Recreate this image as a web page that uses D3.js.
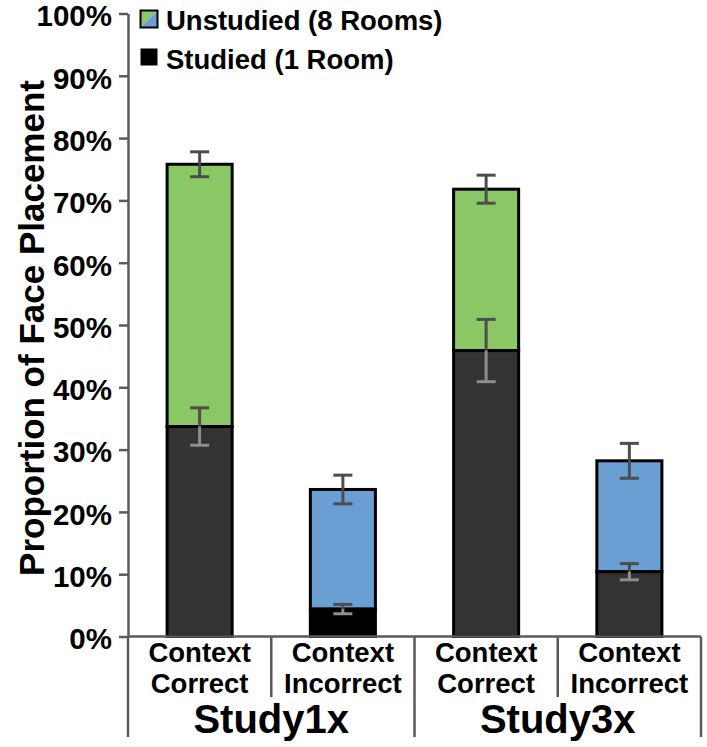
<!DOCTYPE html>
<html>
<head>
<meta charset="utf-8">
<script src="https://cdn.jsdelivr.net/npm/d3@7"></script>
<style>
  html, body { margin: 0; padding: 0; background: #fff; }
  svg { display: block; }
  text { font-family: "Liberation Sans", Arial, sans-serif; font-weight: bold; fill: #000; }
</style>
</head>
<body>
<svg id="chart" width="707" height="747"></svg>
<script>
// ---- data ----
const groups = ["Study1x", "Study3x"];
const categoryLine1 = ["Context", "Context", "Context", "Context"];
const categoryLine2 = ["Correct", "Incorrect", "Correct", "Incorrect"];
const categoryGroup = [0, 0, 1, 1];
const studied = [0.337, 0.044, 0.459, 0.104];
const unstudied = [0.421, 0.192, 0.259, 0.178];
const studiedErr = [0.030, 0.0075, 0.050, 0.013];
const totalErr = [0.020, 0.023, 0.0225, 0.028];
const yTicks = [0, 0.1, 0.2, 0.3, 0.4, 0.5, 0.6, 0.7, 0.8, 0.9, 1.0];
const legendLabels = ["Unstudied (8 Rooms)", "Studied (1 Room)"];

// ---- styles ----
const green = "#8ac866", blue = "#6a9fd3", dark = "#333333";
const unstudiedColor = ["correct", "incorrect", "correct", "incorrect"].map(k => k === "correct" ? green : blue);
const studiedColor = [dark, "#000000", dark, dark];
const axisColor = "#5a5a5a";
const errDark = "#4d4d4d", errLight = "#8e8e8e";

const svg = d3.select("#chart");
const idx = d3.range(studied.length);

const y = d3.scaleLinear().domain([0, 1]).range([636.5, 13.5]);
const x = d3.scaleBand().domain(idx).range([128, 701]).paddingInner(0.525).paddingOuter(0.2625);
const y0 = y(0);

// y axis
const yAxis = d3.axisLeft(y).tickValues(yTicks).tickFormat(d3.format(".0%")).tickSize(9).tickSizeOuter(0).tickPadding(7);
const gy = svg.append("g").attr("transform", "translate(128,0)").call(yAxis);
gy.select(".domain").attr("stroke", axisColor).attr("stroke-width", 2.5);
gy.selectAll(".tick line").attr("stroke", axisColor).attr("stroke-width", 2.5);
gy.selectAll(".tick text").attr("font-size", 29.5).attr("dy", "0.42em")
  .style("font-family", '"Liberation Sans", Arial, sans-serif').style("font-weight", "bold").attr("fill", "#000");

// y title
svg.append("text")
  .attr("transform", `translate(44,${y(0.5) + 3}) rotate(-90)`)
  .attr("text-anchor", "middle")
  .attr("font-size", 35)
  .text("Proportion of Face Placement");

// bars
const bars = svg.append("g");
bars.selectAll("rect.uns").data(idx).join("rect")
  .attr("class", "uns")
  .attr("x", i => x(i) + 1.5)
  .attr("width", x.bandwidth() - 3)
  .attr("y", i => y(studied[i] + unstudied[i]))
  .attr("height", i => y(studied[i]) - y(studied[i] + unstudied[i]))
  .attr("fill", i => unstudiedColor[i])
  .attr("stroke", "#000").attr("stroke-width", 3);
bars.selectAll("rect.stu").data(idx).join("rect")
  .attr("class", "stu")
  .attr("x", i => x(i) + 1.5)
  .attr("width", x.bandwidth() - 3)
  .attr("y", i => y(studied[i]))
  .attr("height", i => y0 - y(studied[i]))
  .attr("fill", i => studiedColor[i])
  .attr("stroke", "#000").attr("stroke-width", 3);

// error bars
const capW = 19;
const eg = svg.append("g").attr("stroke-width", 3).attr("fill", "none");
function errBar(cx, v, e, upperColor, lowerColor) {
  const g = eg.append("g");
  g.append("line").attr("x1", cx).attr("x2", cx).attr("y1", y(v + e)).attr("y2", y(v)).attr("stroke", upperColor);
  g.append("line").attr("x1", cx - capW / 2).attr("x2", cx + capW / 2).attr("y1", y(v + e)).attr("y2", y(v + e)).attr("stroke", upperColor);
  g.append("line").attr("x1", cx).attr("x2", cx).attr("y1", y(v)).attr("y2", y(v - e)).attr("stroke", lowerColor);
  g.append("line").attr("x1", cx - capW / 2).attr("x2", cx + capW / 2).attr("y1", y(v - e)).attr("y2", y(v - e)).attr("stroke", lowerColor);
}
idx.forEach(i => {
  const cx = x(i) + x.bandwidth() / 2;
  errBar(cx, studied[i], studiedErr[i], errDark, errLight);
  errBar(cx, studied[i] + unstudied[i], totalErr[i], errDark, errDark);
});

// x axis line and separators
const left = x.range()[0], step = x.step();
svg.append("line").attr("x1", left).attr("x2", x.range()[1]).attr("y1", y0).attr("y2", y0)
  .attr("stroke", axisColor).attr("stroke-width", 2.5);
d3.range(idx.length + 1).forEach(k => {
  const bx = left + k * step;
  const isGroup = k % 2 === 0;
  svg.append("line").attr("x1", bx).attr("x2", bx).attr("y1", y0).attr("y2", isGroup ? 737 : 697)
    .attr("stroke", axisColor).attr("stroke-width", 2.5);
});

// category labels
const cl = svg.append("g").attr("text-anchor", "middle").attr("font-size", 27.5);
idx.forEach(i => {
  const cx = left + (i + 0.5) * step;
  cl.append("text").attr("x", cx).attr("y", 662).text(categoryLine1[i]);
  cl.append("text").attr("x", cx).attr("y", 693).text(categoryLine2[i]);
});
groups.forEach((g, gi) => {
  const members = idx.filter(i => categoryGroup[i] === gi);
  const cx = left + (d3.min(members) + d3.max(members) + 1) / 2 * step;
  svg.append("text").attr("x", cx).attr("y", 733).attr("text-anchor", "middle").attr("font-size", 40).text(g);
});

// legend
const lg = svg.append("g");
const sx = 140.5, s1y = 10.5, sz = 17;
lg.append("path").attr("d", `M${sx},${s1y} L${sx + sz},${s1y} L${sx},${s1y + sz} Z`).attr("fill", green);
lg.append("path").attr("d", `M${sx + sz},${s1y} L${sx + sz},${s1y + sz} L${sx},${s1y + sz} Z`).attr("fill", blue);
lg.append("rect").attr("x", sx).attr("y", s1y).attr("width", sz).attr("height", sz).attr("fill", "none").attr("stroke", "#000").attr("stroke-width", 2);
lg.append("rect").attr("x", sx).attr("y", 48.5).attr("width", sz).attr("height", sz).attr("fill", "#000");
lg.append("text").attr("x", 166).attr("y", 29.5).attr("font-size", 27.5).text(legendLabels[0]);
lg.append("text").attr("x", 166).attr("y", 68.5).attr("font-size", 27.5).text(legendLabels[1]);
</script>
</body>
</html>
